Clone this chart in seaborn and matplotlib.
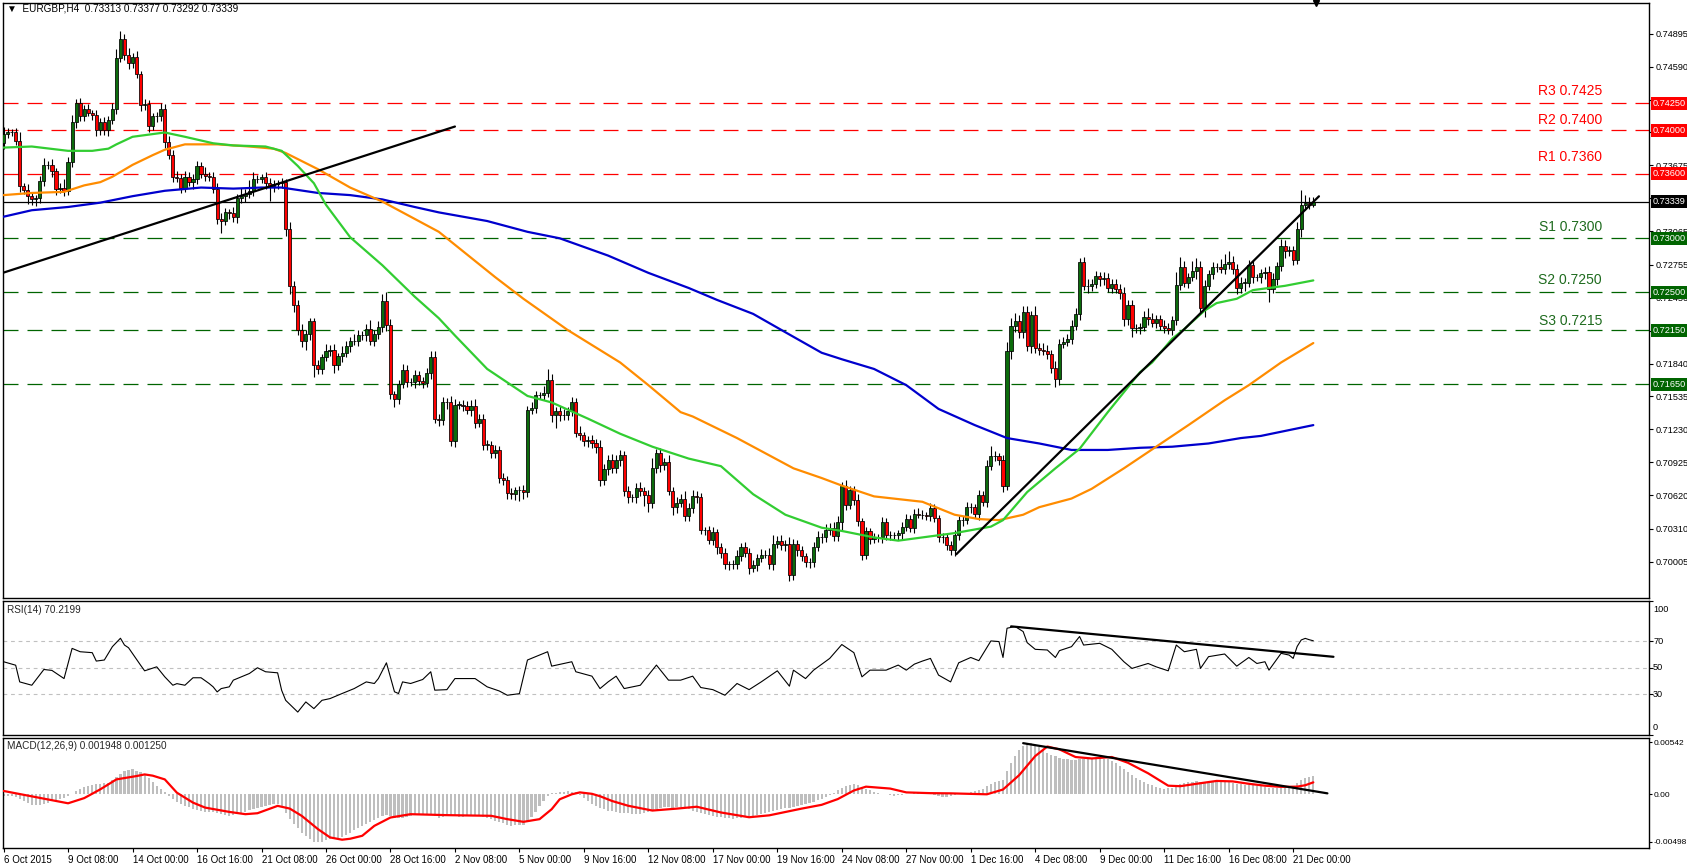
import matplotlib
matplotlib.use("Agg")
import matplotlib.pyplot as plt
import matplotlib.transforms as mtransforms
import numpy as np
import pandas as pd
import seaborn as sns

# ---------------- data ----------------
header_text = "EURGBP,H4  0.73313 0.73377 0.73292 0.73339"
rsi_header = "RSI(14) 70.2199"
macd_header = "MACD(12,26,9) 0.001948 0.001250"

first_open = 0.7388
closes = [
    0.7397, 0.7398, 0.7398, 0.7390, 0.7348, 0.7345, 0.7339, 0.7336, 0.7337, 0.7353, 0.7368, 0.7368, 0.7362, 0.7346, 0.7347, 0.7344, 0.7371, 0.7408, 0.7425, 0.7413,
    0.7420, 0.7416, 0.7414, 0.7400, 0.7408, 0.7400, 0.7410, 0.7420, 0.7467, 0.7485, 0.7470, 0.7462, 0.7468, 0.7452, 0.7423, 0.7424, 0.7404, 0.7413, 0.7413, 0.7420,
    0.7389, 0.7377, 0.7357, 0.7356, 0.7347, 0.7357, 0.7352, 0.7355, 0.7367, 0.7360, 0.7358, 0.7357, 0.7346, 0.7318, 0.7316, 0.7324, 0.7323, 0.7320, 0.7337, 0.7339,
    0.7341, 0.7344, 0.7355, 0.7355, 0.7357, 0.7351, 0.7348, 0.7350, 0.7351, 0.7352, 0.7309, 0.7256, 0.7238, 0.7215, 0.7205, 0.7211, 0.7223, 0.7183, 0.7179, 0.7190,
    0.7196, 0.7197, 0.7183, 0.7191, 0.7194, 0.7200, 0.7205, 0.7205, 0.7210, 0.7210, 0.7216, 0.7205, 0.7211, 0.7218, 0.7242, 0.7220, 0.7156, 0.7151, 0.7165, 0.7178,
    0.7167, 0.7167, 0.7173, 0.7168, 0.7166, 0.7175, 0.7190, 0.7133, 0.7132, 0.7148, 0.7148, 0.7112, 0.7146, 0.7146, 0.7145, 0.7141, 0.7145, 0.7129, 0.7133, 0.7109,
    0.7109, 0.7101, 0.7104, 0.7078, 0.7076, 0.7064, 0.7063, 0.7067, 0.7067, 0.7065, 0.7141, 0.7143, 0.7155, 0.7155, 0.7157, 0.7169, 0.7136, 0.7140, 0.7136, 0.7136,
    0.7140, 0.7148, 0.7120, 0.7118, 0.7112, 0.7113, 0.7110, 0.7107, 0.7076, 0.7086, 0.7095, 0.7087, 0.7095, 0.7099, 0.7066, 0.7060, 0.7060, 0.7069, 0.7066, 0.7062,
    0.7055, 0.7087, 0.7101, 0.7090, 0.7093, 0.7066, 0.7051, 0.7055, 0.7059, 0.7043, 0.7050, 0.7061, 0.7060, 0.7030, 0.7030, 0.7021, 0.7028, 0.7014, 0.7009, 0.6998,
    0.6998, 0.6998, 0.7006, 0.7014, 0.7009, 0.6995, 0.6997, 0.7004, 0.7007, 0.7007, 0.6998, 0.7017, 0.7020, 0.7016, 0.7017, 0.6988, 0.7017, 0.7011, 0.7006, 0.7000,
    0.7000, 0.7014, 0.7023, 0.7023, 0.7030, 0.7032, 0.7024, 0.7037, 0.7071, 0.7053, 0.7067, 0.7058, 0.7038, 0.7007, 0.7029, 0.7022, 0.7023, 0.7023, 0.7037, 0.7025,
    0.7025, 0.7025, 0.7027, 0.7033, 0.7040, 0.7032, 0.7045, 0.7044, 0.7044, 0.7043, 0.7050, 0.7041, 0.7023, 0.7023, 0.7016, 0.7011, 0.7025, 0.7039, 0.7039, 0.7051,
    0.7051, 0.7045, 0.7062, 0.7056, 0.7089, 0.7098, 0.7098, 0.7095, 0.7071, 0.7196, 0.7219, 0.7223, 0.7213, 0.7232, 0.7200, 0.7229, 0.7198, 0.7197, 0.7196, 0.7193,
    0.7180, 0.7170, 0.7202, 0.7204, 0.7207, 0.7219, 0.7230, 0.7278, 0.7256, 0.7256, 0.7258, 0.7265, 0.7262, 0.7263, 0.7254, 0.7258, 0.7253, 0.7249, 0.7225, 0.7238,
    0.7217, 0.7217, 0.7218, 0.7227, 0.7225, 0.7222, 0.7225, 0.7219, 0.7217, 0.7215, 0.7224, 0.7257, 0.7273, 0.7259, 0.7264, 0.7270, 0.7273, 0.7235, 0.7256, 0.7267,
    0.7273, 0.7273, 0.7272, 0.7276, 0.7278, 0.7272, 0.7254, 0.7259, 0.7259, 0.7275, 0.7264, 0.7264, 0.7268, 0.7269, 0.7253, 0.7262, 0.7274, 0.7293, 0.7288, 0.7289,
    0.7280, 0.7309, 0.7331, 0.7333, 0.7331, 0.73339,
]
# wick lengths in pips (0.0001)
hi_wick = [
    6, 4, 3, 4, 8, 3, 5, 4, 3, 5, 6, 4, 5, 3, 4, 8, 4, 6, 4, 5,
    3, 4, 3, 5, 3, 4, 3, 5, 8, 7, 4, 6, 4, 5, 3, 5, 4, 3, 4, 5,
    4, 6, 5, 5, 4, 5, 4, 5, 5, 4, 6, 3, 4, 5, 5, 4, 3, 6, 4, 8,
    5, 10, 6, 4, 3, 4, 5, 4, 3, 4, 3, 6, 4, 5, 6, 4, 3, 3, 4, 3,
    6, 4, 5, 3, 6, 5, 4, 6, 5, 4, 5, 8, 4, 5, 6, 8, 5, 3, 4, 6,
    5, 4, 5, 4, 4, 5, 6, 6, 4, 5, 4, 6, 5, 3, 4, 4, 5, 6, 4, 4,
    4, 3, 5, 4, 5, 4, 5, 3, 4, 5, 4, 5, 4, 3, 6, 10, 5, 4, 5, 6,
    4, 5, 4, 6, 3, 4, 5, 4, 6, 5, 4, 5, 4, 5, 4, 5, 3, 4, 5, 4,
    5, 10, 4, 5, 4, 6, 4, 5, 4, 7, 5, 6, 5, 4, 3, 4, 5, 3, 4, 4,
    3, 4, 5, 4, 5, 4, 5, 4, 5, 4, 6, 8, 4, 5, 4, 6, 5, 4, 4, 3,
    4, 5, 6, 4, 5, 4, 5, 6, 3, 5, 4, 4, 5, 3, 4, 3, 4, 3, 5, 4,
    4, 3, 3, 4, 5, 4, 4, 5, 4, 3, 5, 4, 3, 4, 3, 4, 5, 4, 4, 5,
    4, 3, 5, 4, 6, 10, 5, 3, 4, 8, 7, 8, 6, 5, 5, 4, 8, 5, 6, 5,
    4, 6, 5, 5, 4, 5, 5, 4, 5, 6, 4, 5, 4, 6, 5, 4, 4, 5, 6, 5,
    5, 4, 4, 6, 8, 6, 4, 4, 5, 5, 4, 12, 10, 6, 4, 9, 9, 6, 5, 4,
    5, 4, 8, 9, 10, 6, 4, 5, 4, 5, 4, 3, 4, 4, 5, 6, 4, 6, 5, 4,
    4, 6, 14, 7, 5, 4,
]
lo_wick = [
    5, 4, 3, 4, 5, 4, 7, 5, 6, 4, 5, 4, 5, 6, 4, 5, 4, 5, 6, 4,
    4, 3, 4, 5, 4, 4, 5, 4, 5, 4, 5, 5, 4, 4, 5, 4, 6, 4, 5, 4,
    5, 4, 5, 4, 5, 4, 4, 6, 5, 4, 5, 4, 4, 5, 11, 4, 5, 5, 6, 4,
    5, 4, 5, 4, 4, 5, 13, 5, 4, 4, 7, 8, 6, 5, 6, 8, 5, 11, 5, 5,
    4, 5, 8, 5, 6, 4, 5, 4, 5, 4, 5, 4, 5, 4, 5, 6, 5, 7, 4, 4,
    5, 4, 6, 4, 5, 4, 5, 4, 6, 5, 6, 4, 5, 4, 5, 4, 6, 5, 4, 5,
    5, 4, 4, 5, 4, 5, 4, 5, 10, 6, 5, 4, 5, 4, 5, 4, 6, 12, 5, 4,
    4, 5, 4, 5, 4, 5, 4, 6, 5, 4, 5, 4, 4, 6, 5, 5, 4, 5, 5, 10,
    8, 5, 4, 6, 5, 4, 7, 5, 4, 5, 5, 4, 5, 4, 5, 4, 5, 6, 5, 4,
    5, 4, 4, 5, 4, 6, 4, 5, 4, 3, 4, 5, 4, 5, 6, 5, 4, 5, 5, 4,
    5, 4, 4, 5, 4, 5, 4, 4, 7, 5, 4, 5, 4, 5, 4, 5, 4, 4, 5, 4,
    4, 3, 4, 5, 4, 4, 5, 3, 4, 4, 5, 4, 4, 5, 5, 4, 5, 4, 5, 4,
    5, 4, 6, 4, 5, 4, 4, 5, 6, 4, 8, 6, 5, 5, 4, 6, 4, 5, 4, 5,
    5, 8, 6, 4, 4, 5, 4, 6, 4, 7, 5, 4, 6, 5, 4, 5, 4, 5, 6, 5,
    8, 5, 6, 4, 5, 4, 5, 4, 5, 4, 5, 4, 5, 4, 5, 4, 8, 5, 8, 4,
    5, 4, 4, 5, 4, 5, 6, 5, 8, 4, 5, 4, 5, 6, 12, 4, 5, 4, 6, 4,
    5, 4, 8, 5, 4, 2,
]

ma_green_bar = [0, 7, 16, 22, 26, 28, 32, 36, 40, 45, 52, 57, 65, 69, 73, 77, 80, 86, 94, 102,
                108, 112, 120, 130, 136, 145, 153, 161, 170, 178, 186, 194, 203, 208, 216, 222, 228, 236, 245, 248,
                254, 261, 267, 274, 282, 285, 290, 293, 298, 301, 306, 310, 318, 325]
ma_green_val = [0.7384, 0.7385, 0.7381, 0.7381, 0.7383, 0.7387, 0.7394, 0.7396, 0.7398, 0.7394, 0.7388, 0.7386, 0.7385, 0.7381, 0.7367, 0.7351, 0.7331, 0.7301, 0.7275, 0.7246,
                0.7226, 0.7210, 0.7179, 0.7154, 0.7148, 0.7133, 0.7119, 0.7107, 0.7096, 0.7089, 0.7063, 0.7044, 0.7032, 0.7029, 0.7023, 0.7020, 0.7023, 0.7027, 0.7033, 0.7039,
                0.7065, 0.7087, 0.7105, 0.7139, 0.7176, 0.7185, 0.7207, 0.7216, 0.7233, 0.7240, 0.7244, 0.7252, 0.7256, 0.7261]
ma_orange_bar = [0, 7, 15, 20, 24, 27, 32, 37, 40, 45, 53, 61, 67, 70, 78, 86, 94, 102, 108, 115,
                 122, 129, 140, 153, 160, 168, 171, 182, 190, 196, 203, 208, 216, 228, 232, 236, 242, 247, 253, 257,
                 265, 270, 278, 286, 294, 303, 309, 317, 325]
ma_orange_val = [0.7340, 0.7342, 0.7343, 0.7349, 0.7352, 0.7357, 0.7368, 0.7377, 0.7382, 0.7387, 0.7387, 0.7385, 0.7383, 0.7379, 0.7364, 0.7347, 0.7334, 0.7318, 0.7306, 0.7285,
                 0.7264, 0.7244, 0.7215, 0.7185, 0.7164, 0.7139, 0.7135, 0.7115, 0.7099, 0.7087, 0.7078, 0.7071, 0.7061, 0.7056, 0.7050, 0.7044, 0.7040, 0.7039, 0.7044, 0.7051,
                 0.7059, 0.7068, 0.7087, 0.7107, 0.7127, 0.7150, 0.7164, 0.7185, 0.7203]
ma_blue_bar = [0, 7, 16, 24, 32, 40, 49, 57, 64, 69, 78, 86, 94, 102, 108, 120, 130, 138, 150, 160,
               170, 177, 186, 194, 203, 208, 216, 224, 232, 241, 249, 257, 265, 274, 282, 290, 299, 307, 312, 325]
ma_blue_val = [0.7320, 0.7326, 0.7329, 0.7333, 0.7339, 0.7344, 0.7347, 0.7346, 0.7347, 0.7347, 0.7342, 0.7340, 0.7336, 0.7329, 0.7324, 0.7316, 0.7306, 0.7300, 0.7284, 0.7268,
               0.7254, 0.7243, 0.7230, 0.7213, 0.7194, 0.7188, 0.7179, 0.7164, 0.7142, 0.7127, 0.7115, 0.7110, 0.7104, 0.7104, 0.7106, 0.7107, 0.7110, 0.7115, 0.7117, 0.7127]

trend1_bar = [-0.2, 112]
trend1_val = [0.72680, 0.74035]
trend2_bar = [236.4, 326.4]
trend2_val = [0.70074, 0.73389]

red_levels = [0.7425, 0.7400, 0.7360]
red_names = ["R3 0.7425", "R2 0.7400", "R1 0.7360"]
green_levels = [0.7300, 0.7250, 0.7215, 0.7165]
green_names = ["S1 0.7300", "S2 0.7250", "S3 0.7215", ""]
current_price = 0.73339

price_ticks = [0.74895, 0.74590, 0.74285, 0.73980, 0.73675, 0.73370, 0.73065, 0.72755,
               0.72450, 0.72145, 0.71840, 0.71535, 0.71230, 0.70925, 0.70620, 0.70310, 0.70005]

rsi_bar = [0, 3, 4, 7, 10, 12, 15, 17, 19, 22, 23, 25, 27, 29, 30, 31, 34, 35, 38, 40,
           42, 43, 45, 47, 49, 51, 52, 53, 54, 56, 57, 59, 61, 63, 65, 68, 69, 70, 73, 75,
           77, 79, 81, 84, 87, 90, 92, 93, 95, 97, 98, 99, 101, 104, 106, 107, 110, 112, 117, 120,
           123, 125, 128, 130, 133, 135, 136, 141, 142, 146, 148, 150, 152, 154, 158, 162, 165, 168, 171, 173,
           176, 179, 182, 185, 188, 192, 195, 196, 199, 201, 205, 208, 211, 213, 215, 219, 222, 224, 226, 228,
           230, 232, 235, 237, 240, 242, 245, 247, 248, 249, 251, 253, 254, 256, 259, 261, 262, 265, 267, 268,
           272, 275, 278, 280, 284, 286, 289, 291, 293, 296, 297, 299, 303, 306, 309, 311, 313, 314, 317, 319,
           320, 321, 322, 323, 324, 325]
rsi_val = [54.5, 51.9, 39.4, 36.9, 48.7, 48.0, 41.9, 64.5, 62.0, 61.3, 55.0, 55.8, 65.8, 72.1, 67.0, 65.0, 51.9, 47.7, 50.7, 43.2,
           36.9, 38.1, 36.9, 42.5, 42.5, 38.2, 35.7, 31.9, 34.4, 35.7, 40.7, 43.2, 45.7, 50.0, 47.0, 46.2, 33.1, 25.6, 16.8, 24.4,
           19.4, 25.6, 26.9, 30.7, 34.4, 39.4, 38.2, 41.9, 53.7, 32.0, 30.7, 39.4, 38.2, 41.2, 47.0, 33.2, 33.6, 41.9, 41.9, 35.7,
           32.6, 29.4, 30.6, 55.8, 59.5, 62.0, 51.2, 54.5, 47.0, 43.7, 34.4, 39.4, 43.7, 34.4, 36.9, 52.0, 40.7, 40.7, 43.7, 35.2,
           33.6, 29.4, 38.2, 33.6, 39.4, 47.7, 36.2, 48.2, 41.9, 48.2, 57.0, 67.4, 61.3, 43.2, 48.2, 48.2, 52.0, 48.2, 52.7, 55.0,
           57.0, 44.5, 39.4, 53.7, 57.7, 55.3, 70.1, 69.6, 57.7, 79.6, 80.9, 77.1, 68.8, 63.8, 63.3, 57.7, 62.8, 65.8, 73.4, 67.0,
           68.3, 63.8, 54.5, 49.5, 53.2, 50.7, 47.7, 67.0, 62.0, 63.8, 49.5, 58.3, 60.3, 51.2, 57.7, 53.2, 54.5, 48.2, 60.8, 59.5,
           57.0, 66.0, 70.8, 72.0, 71.0, 70.2]
rsi_levels = [30, 50, 70]
rsi_trend_bar = [250, 330]
rsi_trend_val = [81.0, 58.2]

# MACD main line (gray histogram), units of 0.00001, one per bar
macd_main_e5 = [
    -15, -18, -20, -30, -45, -70, -95, -108, -115, -110, -100, -88, -75, -62, -50, -35, -20, 5, 30, 60,
    75, 90, 100, 105, 110, 115, 120, 150, 180, 210, 240, 252, 260, 248, 230, 200, 170, 130, 90, 55,
    20, -20, -50, -80, -100, -120, -135, -150, -162, -175, -180, -185, -190, -200, -210, -218, -225, -215, -205, -192,
    -180, -168, -156, -145, -133, -122, -110, -105, -100, -120, -200, -255, -310, -355, -400, -435, -470, -500, -500, -495,
    -483, -470, -465, -458, -450, -425, -400, -370, -350, -330, -310, -290, -270, -250, -230, -215, -230, -250, -250, -250,
    -238, -225, -215, -205, -205, -208, -210, -228, -245, -238, -232, -230, -232, -235, -235, -230, -228, -225, -232, -240,
    -245, -260, -275, -290, -305, -318, -330, -325, -322, -320, -280, -240, -180, -120, -70, -20, 10, 18, 25, 28,
    30, 25, 20, -10, -40, -70, -100, -120, -140, -155, -170, -178, -185, -192, -196, -200, -204, -207, -210, -195,
    -180, -165, -150, -140, -130, -135, -140, -135, -130, -140, -150, -170, -190, -200, -210, -220, -227, -233, -240, -247,
    -253, -260, -253, -245, -238, -231, -225, -217, -208, -200, -187, -173, -160, -153, -147, -140, -130, -120, -110, -100,
    -90, -80, -63, -47, -30, -10, 10, 40, 70, 85, 100, 110, 95, 80, 60, 40, 25, 10, 5, 0,
    -8, -15, -10, -5, 0, 5, 10, 15, 12, 10, 0, -10, -20, -30, -25, -20, -10, 0, 8, 15,
    22, 30, 45, 60, 85, 110, 125, 140, 150, 240, 330, 400, 460, 510, 535, 540, 520, 490, 460, 430,
    415, 400, 385, 370, 365, 360, 360, 365, 370, 375, 378, 380, 375, 370, 370, 350, 330, 295, 260, 230,
    200, 175, 150, 130, 110, 95, 80, 68, 55, 62, 70, 90, 110, 118, 125, 132, 140, 132, 125, 128,
    130, 130, 130, 128, 125, 118, 110, 105, 100, 97, 95, 90, 85, 78, 70, 67, 65, 70, 75, 82,
    90, 120, 150, 170, 185, 195,
]
signal_bar = [0, 16, 20, 24, 28, 33, 35, 37, 40, 43, 47, 50, 56, 60, 63, 68, 71, 74, 78, 81,
              84, 86, 89, 92, 96, 101, 110, 121, 125, 129, 133, 136, 138, 141, 143, 146, 148, 151, 155, 161,
              167, 172, 178, 185, 190, 198, 203, 207, 211, 214, 220, 224, 230, 235, 244, 248, 252, 256, 259, 262,
              266, 270, 275, 279, 284, 289, 292, 296, 301, 305, 309, 313, 317, 321, 323, 325]
signal_e5 = [35, -94, -40, 52, 156, 191, 208, 195, 156, 17, -87, -139, -184, -208, -198, -121, -149, -226, -364, -451,
             -475, -465, -434, -330, -243, -208, -218, -225, -260, -288, -260, -156, -52, 0, 20, 5, -20, -70, -120, -170,
             -150, -130, -190, -240, -220, -150, -110, -50, 40, 80, 60, 20, 12, 10, 0, 50, 200, 400, 500, 470,
             390, 375, 390, 330, 220, 90, 85, 110, 140, 135, 110, 90, 78, 80, 95, 125]
macd_trend_bar = [253, 328.5]
macd_trend_val = [0.00535, 0.0001]
macd_labels = [(0.00542, "0.00542"), (0.0, "0.00"), (-0.00498, "-0.00498")]

xtick_bars = [0, 16, 32, 48, 64, 80, 96, 112, 128, 144, 160, 176, 192, 208, 224, 240, 256, 272, 288, 304, 320]
xtick_labels = ["6 Oct 2015", "9 Oct 08:00", "14 Oct 00:00", "16 Oct 16:00", "21 Oct 08:00", "26 Oct 00:00",
                "28 Oct 16:00", "2 Nov 08:00", "5 Nov 00:00", "9 Nov 16:00", "12 Nov 08:00", "17 Nov 00:00",
                "19 Nov 16:00", "24 Nov 08:00", "27 Nov 00:00", "1 Dec 16:00", "4 Dec 08:00", "9 Dec 00:00",
                "11 Dec 16:00", "16 Dec 08:00", "21 Dec 00:00"]

# ---------------- styling ----------------
sns.set_style("white")
plt.rcParams['font.family'] = ['Liberation Sans', 'DejaVu Sans']
plt.rcParams['axes.linewidth'] = 1.0
plt.rcParams['axes.edgecolor'] = 'black'

RED = '#FF0000'
DKGREEN = '#006400'
BULL = '#0B6B0B'
LIME = '#32CD32'
ORANGE = '#FF8C00'
BLUE = '#0000CD'
GRAY = '#BEBEBE'

W, H = 1687, 865
fig = plt.figure(figsize=(W / 100, H / 100), dpi=100)
fig.patch.set_facecolor('white')


def rect(l, t, r, b):
    return [l / W, 1 - b / H, (r - l) / W, (b - t) / H]


ax = fig.add_axes(rect(2.7, 3, 1649, 598))
ax_rsi = fig.add_axes(rect(2.7, 601, 1649, 734.5))
ax_macd = fig.add_axes(rect(2.7, 737.5, 1649, 848))

XLIM = (-0.22, 408.3)
for a in (ax, ax_rsi, ax_macd):
    a.set_xlim(*XLIM)
    a.set_facecolor('white')
    for s in a.spines.values():
        s.set_visible(True)
        s.set_color('black')
        s.set_linewidth(1.0)
    a.yaxis.tick_right()
    a.tick_params(axis='y', which='both', direction='out', length=3, width=0.8,
                  labelsize=6.6, pad=2, colors='black', right=True, left=False)
    a.tick_params(axis='x', which='both', bottom=False, top=False, labelbottom=False)
    a.grid(False)

# ---------------- price panel ----------------
n = len(closes)
bars = np.arange(n)
opens = [first_open] + closes[:-1]
df = pd.DataFrame({"bar": bars, "open": opens, "close": closes,
                   "hw": hi_wick, "lw": lo_wick})
df["top"] = df[["open", "close"]].max(axis=1)
df["bot"] = df[["open", "close"]].min(axis=1)
df["high"] = df["top"] + df["hw"] * 1e-4
df["low"] = df["bot"] - df["lw"] * 1e-4
df["color"] = np.where(df["close"] >= df["open"], BULL, RED)

ax.set_ylim(0.69669, 0.75179)

for lv in red_levels:
    ax.axhline(lv, color=RED, lw=0.9, dashes=(12, 7.2), zorder=2)
for lv in green_levels:
    ax.axhline(lv, color=DKGREEN, lw=0.9, dashes=(12, 7.2), zorder=2)
ax.axhline(current_price, color='black', lw=0.9, zorder=2)

ax.vlines(df["bar"], df["low"], df["high"], color='black', lw=0.8, zorder=3)
heights = (df["top"] - df["bot"]).clip(lower=0.000012)
ax.bar(df["bar"], heights, bottom=df["bot"], width=0.78, color=df["color"],
       edgecolor='black', linewidth=0.55, zorder=4)

sns.lineplot(x=ma_blue_bar, y=ma_blue_val, ax=ax, color=BLUE, linewidth=1.6, zorder=5)
sns.lineplot(x=ma_orange_bar, y=ma_orange_val, ax=ax, color=ORANGE, linewidth=1.6, zorder=5)
sns.lineplot(x=ma_green_bar, y=ma_green_val, ax=ax, color=LIME, linewidth=1.6, zorder=5)
sns.lineplot(x=trend1_bar, y=trend1_val, ax=ax, color='black', linewidth=1.6, zorder=6)
sns.lineplot(x=trend2_bar, y=trend2_val, ax=ax, color='black', linewidth=1.6, zorder=6)

ax.set_yticks(price_ticks)
ax.set_yticklabels([f"{t:.5f}" for t in price_ticks])
ax.set_xlabel("")
ax.set_ylabel("")

# level captions
label_x = (1602 - 3.6) / 4.03
red_gap_px = [8, 6, 13]
green_gap_px = [7, 8, 5.5, 0]
for lv, name, gap in zip(red_levels, red_names, red_gap_px):
    ax.annotate(name, xy=(label_x, lv), xytext=(0, gap * 0.72), textcoords='offset points',
                ha='right', va='baseline', color=RED, fontsize=10, zorder=7)
for lv, name, gap in zip(green_levels, green_names, green_gap_px):
    if name:
        ax.annotate(name, xy=(label_x, lv), xytext=(0, gap * 0.72), textcoords='offset points',
                    ha='right', va='baseline', color='#1E6B1E', fontsize=10, zorder=7)

# right-hand price boxes
btrans = mtransforms.blended_transform_factory(ax.transAxes, ax.transData)
box_items = ([(lv, RED) for lv in red_levels] + [(current_price, 'black')] +
             [(lv, DKGREEN) for lv in green_levels])
for lv, col in box_items:
    ax.text(1.0025, lv, f"{lv:.5f}", transform=btrans, ha='left', va='center',
            color='white', fontsize=6.6, zorder=10, clip_on=False,
            bbox=dict(boxstyle='square,pad=0.22', fc=col, ec=col, lw=0))

ax.text(0.0026, 0.990, "\u25BC  " + header_text, transform=ax.transAxes, ha='left', va='center',
        fontsize=7.2, color='black', zorder=10)
ax.plot([325.6], [1.0], marker='v', color='black', markersize=5,
        transform=mtransforms.blended_transform_factory(ax.transData, ax.transAxes),
        clip_on=False, zorder=10)

# ---------------- RSI panel ----------------
ax_rsi.set_ylim(0, 100)
for lv in rsi_levels:
    ax_rsi.axhline(lv, color='#C0C0C0', lw=0.8, dashes=(3.4, 3.4), zorder=1)
sns.lineplot(x=rsi_bar, y=rsi_val, ax=ax_rsi, color='black', linewidth=0.8, zorder=3)
sns.lineplot(x=rsi_trend_bar, y=rsi_trend_val, ax=ax_rsi, color='black', linewidth=1.6, zorder=4)
ax_rsi.set_yticks([0, 30, 50, 70, 100])
ax_rsi.set_yticklabels([])
rtrans = ax_rsi.transAxes
for yfrac, txt in [(0.940, "100"), (0.700, "70"), (0.502, "50"), (0.303, "30"), (0.052, "0")]:
    ax_rsi.text(1.0025, yfrac, txt, transform=rtrans, ha='left', va='center', fontsize=6.6,
                color='black', clip_on=False)
ax_rsi.text(0.0026, 0.933, rsi_header, transform=rtrans, ha='left', va='center', fontsize=7.2)
ax_rsi.set_xlabel("")
ax_rsi.set_ylabel("")

# ---------------- MACD panel ----------------
ax_macd.set_ylim(-0.005618, 0.005943)
macd_vals = np.array(macd_main_e5) * 1e-5
ax_macd.bar(bars, macd_vals, width=0.55, color=GRAY, linewidth=0, zorder=2)
sns.lineplot(x=signal_bar, y=np.array(signal_e5) * 1e-5, ax=ax_macd, color=RED, linewidth=1.6, zorder=3)
sns.lineplot(x=macd_trend_bar, y=macd_trend_val, ax=ax_macd, color='black', linewidth=1.6, zorder=4)
ax_macd.set_yticks([v for v, _ in macd_labels])
ax_macd.set_yticklabels([t for _, t in macd_labels])
ax_macd.tick_params(axis='y', length=2, pad=1, labelsize=6.0)
ax_macd.text(0.0026, 0.923, macd_header, transform=ax_macd.transAxes, ha='left', va='center', fontsize=7.2)
ax_macd.set_xticks(xtick_bars)
ax_macd.set_xticklabels(xtick_labels)
ax_macd.tick_params(axis='x', bottom=True, labelbottom=True, direction='out', length=3, width=0.8,
                    labelsize=7, pad=2, colors='black')
for lab in ax_macd.get_xticklabels():
    lab.set_ha('left')
ax_macd.set_xlabel("")
ax_macd.set_ylabel("")

fig.savefig("out.png", dpi=100, facecolor='white')
